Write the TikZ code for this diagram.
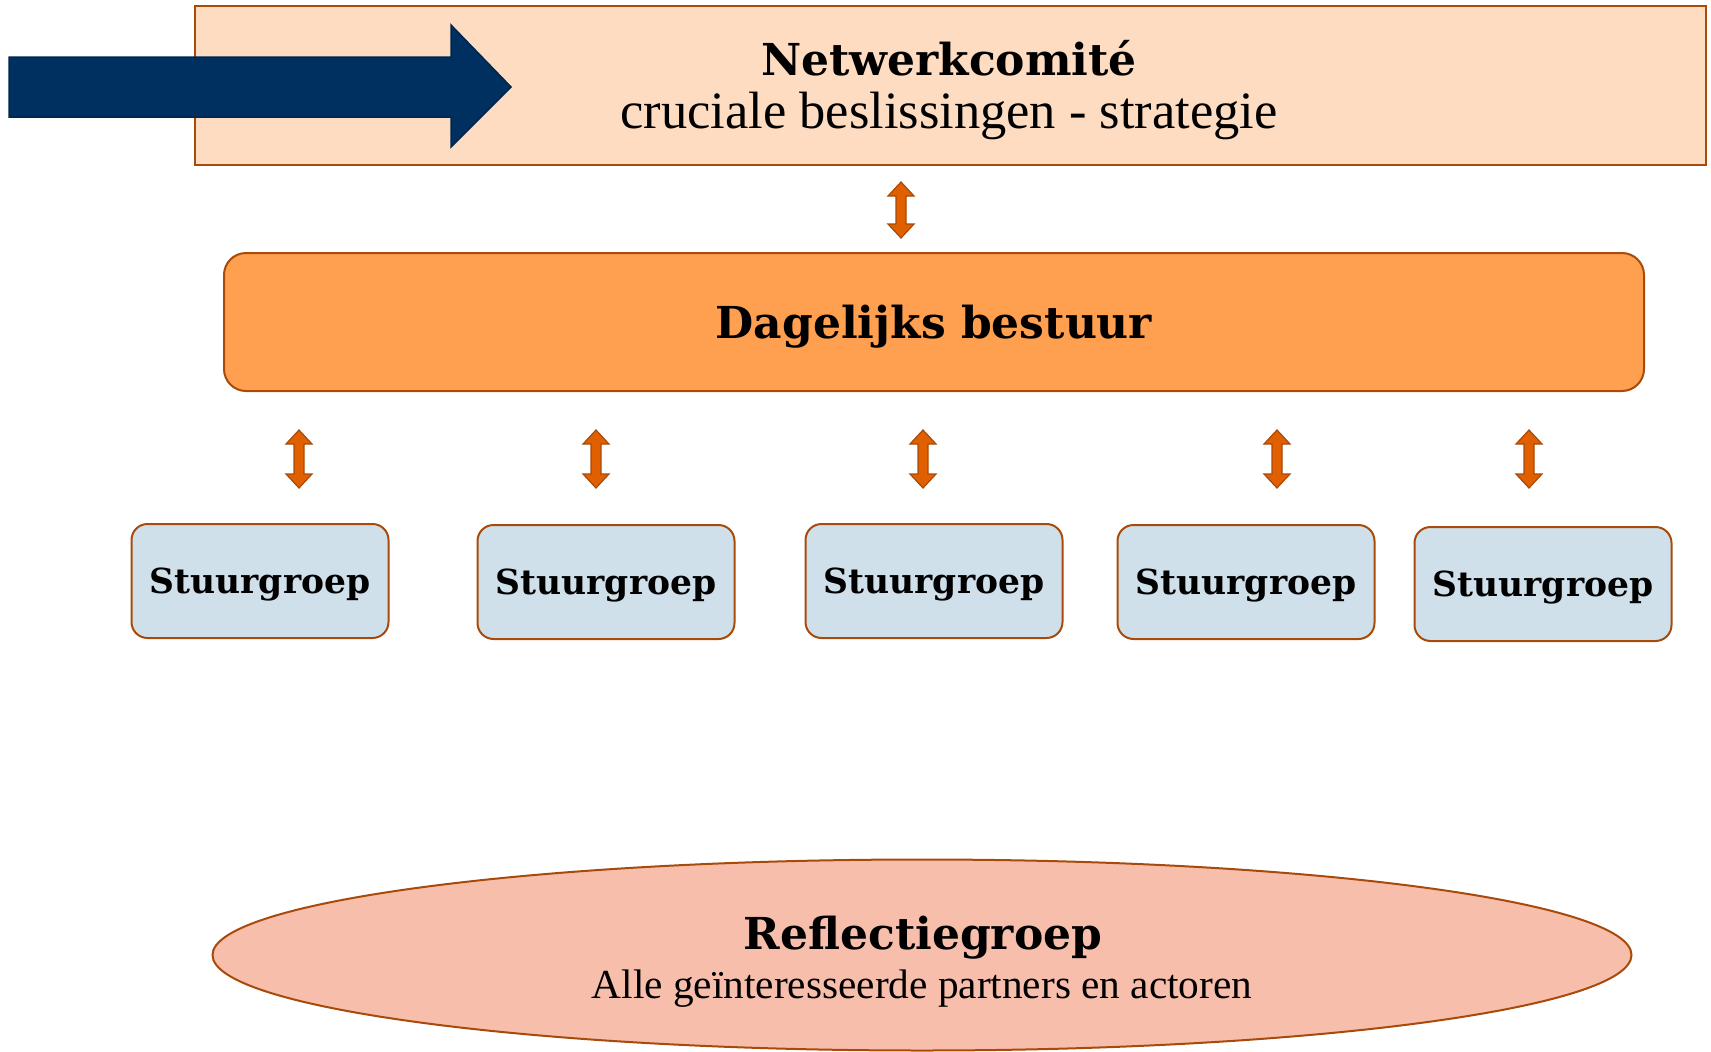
\documentclass[tikz,border=0pt]{standalone}
\usepackage{fontspec}
\setmainfont{Liberation Serif}
\newfontfamily\headfont{DejaVu Serif}
\usetikzlibrary{shapes.geometric}

\definecolor{navy}{HTML}{003060}
\definecolor{rust}{HTML}{A84A0A}
\definecolor{peach}{HTML}{FDDCC2}
\definecolor{oranje}{HTML}{FF9F50}
\definecolor{lichtblauw}{HTML}{D0E0EB}
\definecolor{zalm}{HTML}{F7BEAC}
\definecolor{pijl}{HTML}{E06000}

\tikzset{
  comite/.style={draw=rust, line width=2pt, fill=peach, minimum width=1511pt, minimum height=159pt, align=center},
  bestuur/.style={draw=rust, line width=2pt, fill=oranje, rounded corners=22pt, minimum width=1420pt, minimum height=138pt},
  groep/.style={draw=rust, line width=2pt, fill=lichtblauw, rounded corners=16pt, minimum width=257pt, minimum height=114pt,
    text depth=0pt, font=\headfont\bfseries\fontsize{34.5}{40}\selectfont},
  reflectie/.style={ellipse, draw=rust, line width=2pt, fill=zalm, minimum width=1419pt, minimum height=191pt, align=center},
  titel/.style={font=\headfont\bfseries\fontsize{44}{50}\selectfont},
  sub/.style={font=\fontsize{52.5}{56}\selectfont}
}

% verticale dubbele pijl: x, boven, onder
\newcommand{\dubbelpijl}[3]{%
  \draw[draw=rust, line width=1.2pt, fill=pijl]
    (#1,#2) -- (#1+13,#2+14) -- (#1+5,#2+14) -- (#1+5,#3-14) -- (#1+13,#3-14)
    -- (#1,#3) -- (#1-13,#3-14) -- (#1-5,#3-14) -- (#1-5,#2+14) -- (#1-13,#2+14) -- cycle;}

\begin{document}
\begin{tikzpicture}[x=1pt, y=-1pt]
  \useasboundingbox (0,0) rectangle (1711,1052);

  \node[comite] (nc) at (950.5,85) {};
  \node[titel] at (949,58) {Netwerkcomité};
  \node[sub] at (949,116) {cruciale beslissingen - strategie};

  % grote pijl
  \draw[fill=navy, draw=navy!80!black, line width=1.5pt]
    (9,57) -- (451,57) -- (451,25) -- (511,87) -- (451,147) -- (451,117) -- (9,117) -- cycle;

  \dubbelpijl{901}{182}{238}

  \node[bestuur] (db) at (934,322) {};
  \node[titel] at (934,327) {Dagelijks bestuur};

  \foreach \px in {299,596,923,1277,1529}
    \dubbelpijl{\px}{430}{488};

  \node[groep] (sg1) at (260,581) {Stuurgroep};
  \node[groep] (sg2) at (606,582) {Stuurgroep};
  \node[groep] (sg3) at (934,581) {Stuurgroep};
  \node[groep] (sg4) at (1246,582) {Stuurgroep};
  \node[groep] (sg5) at (1543,584) {Stuurgroep};

  \node[reflectie] (rg) at (922,955) {};
  \node[titel] at (923,938) {Reflectiegroep};
  \node[font=\fontsize{41.3}{46}\selectfont] at (922,989) {Alle geïnteresseerde partners en actoren};
\end{tikzpicture}
\end{document}
